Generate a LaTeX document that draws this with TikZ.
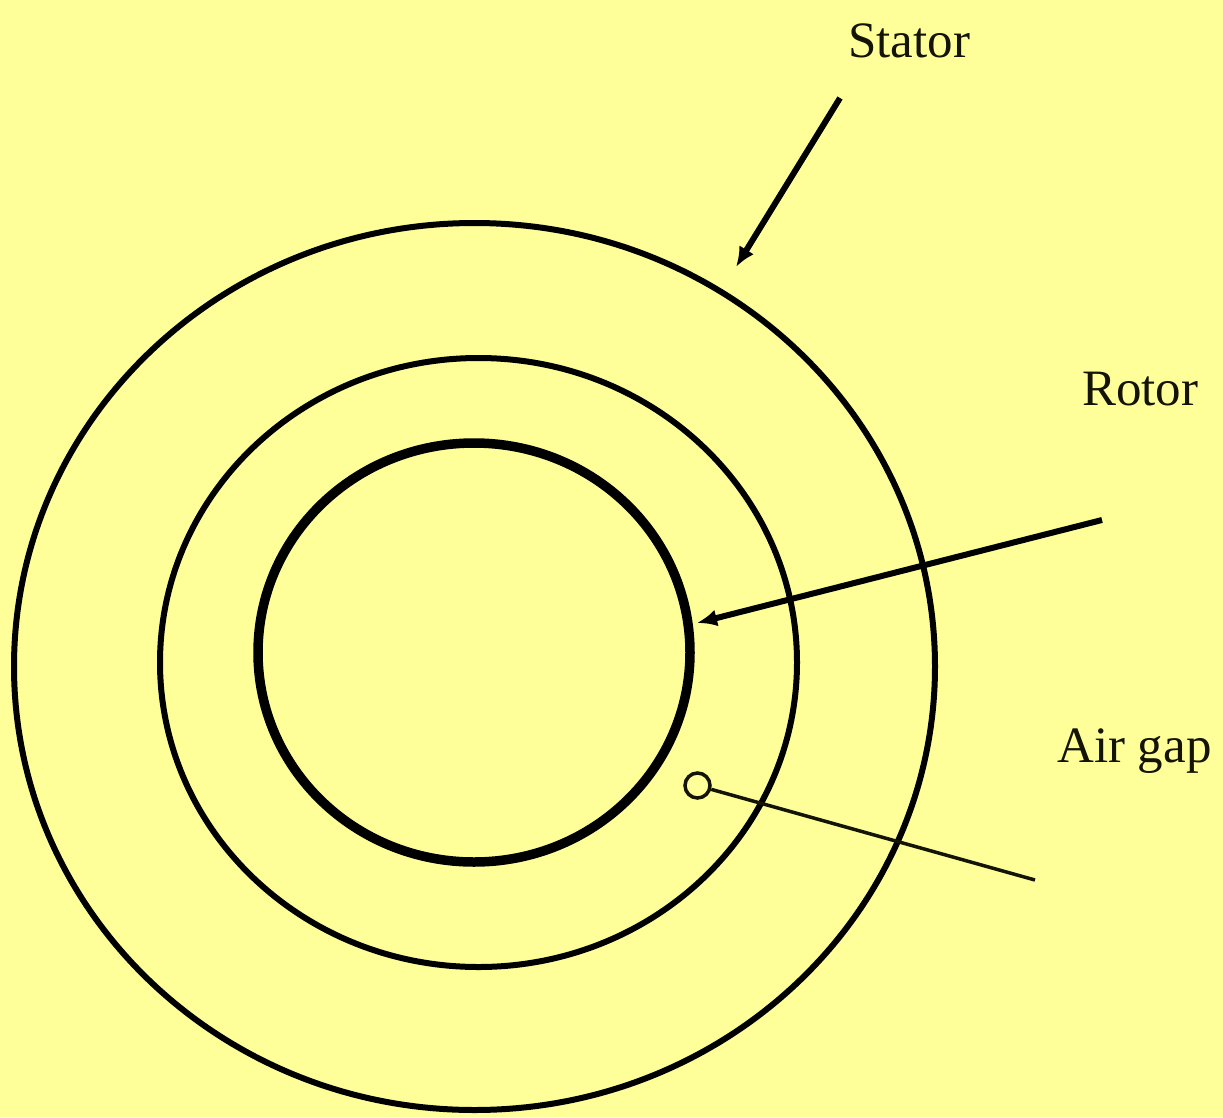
\documentclass[tikz,border=0pt]{standalone}
\usepackage{fontspec}
\setmainfont{Liberation Serif}
\usetikzlibrary{arrows.meta}
\definecolor{bgyellow}{RGB}{255,255,153}
\definecolor{ink}{RGB}{20,20,5}
\begin{document}
\begin{tikzpicture}[x=1pt,y=-1pt,
  ring/.style={draw=black,line width=6pt},
  lbl/.style={anchor=base west,inner sep=0pt,text=ink,font=\fontsize{51}{60}\selectfont},
  pointer/.style={draw=black,line width=6pt,-{Latex[length=20pt,width=17pt]}},
  gapline/.style={draw=ink,line width=3.5pt}]
\fill[bgyellow] (0,0) rectangle (1223,1117);
\useasboundingbox (0,0) rectangle (1223,1117);
% rings
\draw[ring] (474.5,666.5) ellipse [x radius=460.5pt, y radius=443.5pt];
\draw[ring] (478.5,662.5) ellipse [x radius=318.5pt, y radius=304.5pt];
\draw[ring,line width=9.5pt] (474,652.5) ellipse [x radius=216pt, y radius=209.5pt];
% labels
\node[lbl] (stator) at (848,57) {Stator};
\node[lbl] (rotor) at (1082,405) {Rotor};
\node[lbl] (airgap) at (1057,762) {Air gap};
% connector points
\coordinate (sstart) at (840,98);
\coordinate (stip) at (736,267);
\coordinate (rstart) at (1102,520);
\coordinate (rtip) at (697,623);
\coordinate (gend) at (1035,880);
\node[draw=ink,line width=3.5pt,circle,minimum size=25pt,inner sep=0pt] (gapmark) at (697.5,785.5) {};
% connectors
\draw[pointer] (sstart) -- (stip);
\draw[pointer] (rstart) -- (rtip);
\draw[gapline] (gapmark) -- (gend);
\end{tikzpicture}
\end{document}
